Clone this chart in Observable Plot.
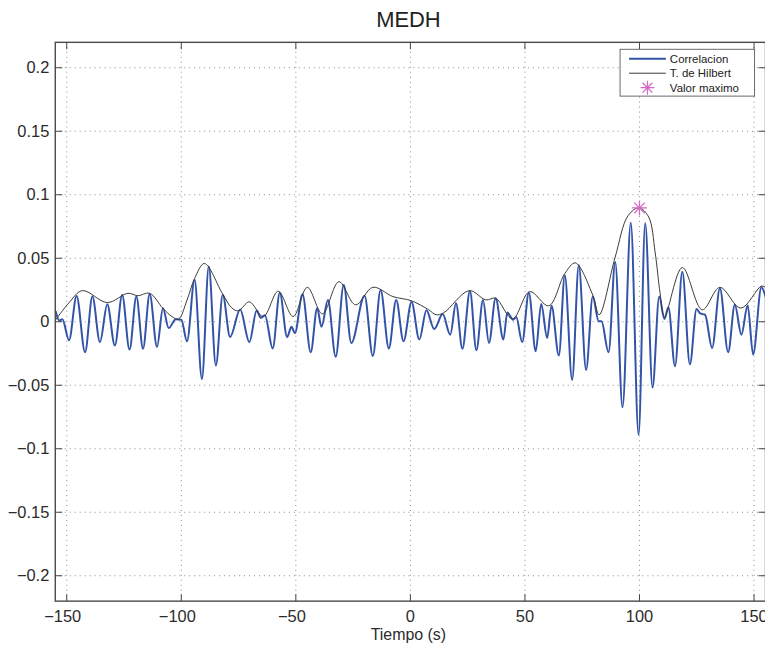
<!DOCTYPE html>
<html><head><meta charset="utf-8">
<script src="https://cdn.jsdelivr.net/npm/d3@7"></script>
<script src="https://cdn.jsdelivr.net/npm/@observablehq/plot@0.6"></script>
<style>
body{margin:0;overflow:hidden;background:#fff}
#chart{width:765px;height:648px;overflow:hidden;position:relative}
</style>
</head><body><div id="chart"></div>
<script>
// Correlation signal (time s, value) at its extrema
const corrT = [-154.8,-153.3,-151.9,-149.0,-145.7,-142.0,-138.8,-135.5,-132.3,-129.0,-125.8,-122.6,-119.6,-116.7,-113.8,-110.6,-108.0,-105.5,-102.4,-100.0,-97.5,-94.2,-91.0,-88.0,-84.9,-81.9,-78.7,-74.3,-70.3,-67.1,-65.3,-63.5,-60.1,-57.0,-53.8,-51.9,-50.4,-47.1,-43.5,-40.7,-38.8,-36.0,-32.6,-29.1,-25.8,-20.0,-16.4,-13.0,-9.4,-6.2,-3.0,0.5,3.9,7.0,10.4,14.1,17.4,19.9,22.7,26.0,28.8,31.7,34.3,37.2,40.6,42.3,44.8,46.2,48.8,51.7,54.7,57.1,59.7,61.6,64.8,67.4,70.6,73.5,76.7,79.6,82.2,83.4,86.5,89.4,92.6,96.2,99.6,102.5,105.7,108.6,110.9,112.6,115.5,118.7,122.0,124.9,126.5,128.6,131.7,135.1,138.7,141.6,144.5,147.2,149.6,153.2,155.0];
const corrV = [0.008,0.001,0.002,-0.0146,0.0203,-0.024,0.0198,-0.016,0.0138,-0.0188,0.021,-0.0219,0.0198,-0.0213,0.0219,-0.0198,0.0107,-0.005,0.002,0.0016,-0.0154,0.033,-0.045,0.0435,-0.0344,0.0213,-0.012,0.0097,-0.016,0.0088,0.003,0.0052,-0.021,0.0229,-0.012,-0.004,-0.0089,0.0216,-0.024,0.0107,-0.004,0.0172,-0.0276,0.029,-0.0167,0.0205,-0.027,0.025,-0.021,0.0172,-0.0154,0.0155,-0.014,0.009,-0.0057,0.006,-0.0102,0.0146,-0.0213,0.0242,-0.0224,0.0172,-0.0167,0.0185,-0.014,0.0073,0.0016,0.0037,-0.016,0.0229,-0.0232,0.014,-0.0128,0.0125,-0.0266,0.0367,-0.0458,0.0445,-0.038,0.0198,0.0003,0.0003,-0.024,0.0471,-0.0674,0.0779,-0.089,0.0776,-0.0518,0.0198,0.0021,0.0115,-0.035,0.0393,-0.0336,0.010,0.0065,0.0055,-0.0206,0.0263,-0.024,0.0133,-0.0102,0.013,-0.0258,0.0271,0.02];

// Hilbert envelope (time s, value)
const hilbT = [-154.8,-149.0,-143.2,-132.3,-123.3,-119.0,-113.8,-108.0,-104.0,-101.2,-97.5,-94.2,-89.9,-82.0,-78.0,-75.1,-70.3,-64.2,-57.7,-51.2,-45.0,-38.4,-31.2,-23.9,-16.4,-7.6,0.3,8.0,11.2,14.5,25.7,32.9,37.2,44.6,52.1,60.4,67.4,72.0,79.6,82.4,89.4,95.0,99.8,104.0,106.8,109.0,110.9,118.7,127.4,135.1,144.2,153.2,155.0];
const hilbV = [0.0016,0.015,0.0245,0.0151,0.0224,0.0205,0.0224,0.0105,0.004,0.0021,0.017,0.034,0.0459,0.022,0.011,0.0086,0.0157,0.0041,0.024,0.0041,0.0271,0.0062,0.0315,0.0133,0.0271,0.0198,0.0166,0.0094,0.0055,0.007,0.0245,0.0172,0.0185,0.0022,0.0237,0.0125,0.038,0.0463,0.021,0.0055,0.051,0.0835,0.0896,0.0825,0.055,0.0224,0.0041,0.0427,0.0094,0.0271,0.0107,0.0281,0.027];

// Maximum value
const peakT = [100];
const peakV = [0.0896];

const xTicks = [-150,-100,-50,0,50,100,150];
const yTicks = [-0.2,-0.15,-0.1,-0.05,0,0.05,0.1,0.15,0.2];
const legendLabels = ["Correlacion","T. de Hilbert","Valor maximo"];
const titleText = "MEDH";
const xLabel = "Tiempo (s)";

const corr = corrT.map((t,i)=>({t, v: corrV[i]}));
const hilb = hilbT.map((t,i)=>({t, v: hilbV[i]}));
const peak = peakT.map((t,i)=>({t, v: peakV[i]}));

const X0 = -155, X1 = 155, Y0 = -0.22, Y1 = 0.22;
const axisColor = "#2b2b2b";
const blue = "#3253a8";
const magenta = "#d466c4";
const font = "'Liberation Sans', Arial, Helvetica, sans-serif";
const tickFont = 16.5;

const rad = s => Math.sqrt(s/Math.PI);
const star8 = {draw(ctx,size){const r=rad(size);for(let k=0;k<4;k++){const a=k*Math.PI/4;ctx.moveTo(r*Math.cos(a),r*Math.sin(a));ctx.lineTo(-r*Math.cos(a),-r*Math.sin(a));}}};
const tickR = {draw(ctx,size){const r=rad(size);ctx.moveTo(0,0);ctx.lineTo(r,0);}};
const tickL = {draw(ctx,size){const r=rad(size);ctx.moveTo(0,0);ctx.lineTo(-r,0);}};
const tickU = {draw(ctx,size){const r=rad(size);ctx.moveTo(0,0);ctx.lineTo(0,-r);}};
const tickD = {draw(ctx,size){const r=rad(size);ctx.moveTo(0,0);ctx.lineTo(0,r);}};

const fmtX = d => (d<0?"\u2212":"") + Math.abs(d);
const fmtY = d => d===0 ? "0" : (d<0?"\u2212":"") + String(+Math.abs(d).toFixed(2));

const chart = Plot.plot({
  width: 768, height: 648,
  marginLeft: 55, marginRight: 0, marginTop: 42, marginBottom: 45,
  style: {fontFamily: font, fontSize: "15px", color: axisColor, background: "#fff"},
  x: {domain: [X0, X1], axis: null},
  y: {domain: [Y0, Y1], axis: null},
  marks: [
    Plot.gridX(xTicks, {stroke: "#8a8a8a", strokeOpacity: 1, strokeWidth: 1, strokeDasharray: "1,4"}),
    Plot.gridY(yTicks, {stroke: "#8a8a8a", strokeOpacity: 1, strokeWidth: 1, strokeDasharray: "1,4"}),
    Plot.text(xTicks.filter(d => d < 0), {x: d => d, y: () => Y0, text: fmtX, lineAnchor: "top", dx: -4, dy: 9, fontSize: tickFont, fill: axisColor}),
    Plot.text(xTicks.filter(d => d >= 0), {x: d => d, y: () => Y0, text: fmtX, lineAnchor: "top", dy: 9, fontSize: tickFont, fill: axisColor}),
    Plot.text(yTicks, {x: () => X0, y: d => d, text: fmtY, textAnchor: "end", dx: -6, fontSize: tickFont, fill: axisColor}),
    Plot.line(corr, {x: "t", y: "v", stroke: blue, strokeWidth: 2, curve: "monotone-x"}),
    Plot.line(hilb, {x: "t", y: "v", stroke: "#3a3a3a", strokeWidth: 1, curve: "catmull-rom"}),
    Plot.dot(peak, {x: "t", y: "v", symbol: star8, r: 7.5, stroke: magenta, strokeWidth: 1.2, fill: "none"}),
    Plot.dot(yTicks, {x: () => X0, y: d => d, symbol: tickR, r: 7, stroke: "#444", strokeWidth: 1, fill: "none"}),
    Plot.dot(yTicks, {x: () => X1, y: d => d, symbol: tickL, r: 7, stroke: "#444", strokeWidth: 1, fill: "none"}),
    Plot.dot(xTicks, {x: d => d, y: () => Y0, symbol: tickU, r: 7, stroke: "#444", strokeWidth: 1, fill: "none"}),
    Plot.dot(xTicks, {x: d => d, y: () => Y1, symbol: tickD, r: 7, stroke: "#444", strokeWidth: 1, fill: "none"}),
    Plot.frame({stroke: "#4a4a4a", strokeWidth: 1.4}),
    Plot.text([titleText], {frameAnchor: "top", lineAnchor: "middle", dx: -2, dy: -22, fontSize: 22, fill: "#222"}),
    Plot.text([xLabel], {frameAnchor: "bottom", lineAnchor: "middle", dx: -2, dy: 34, fontSize: 16, fill: axisColor})
  ]
});
document.getElementById("chart").appendChild(chart);

// Legend box (top-right, inside the axes)
const svg = d3.select(chart);
const lg = svg.append("g").attr("transform", "translate(622.5,49.5)").attr("font-family", font);
lg.append("rect").attr("width", 135).attr("height", 47).attr("fill", "#fff").attr("stroke", "#6a6a6a").attr("stroke-width", 1);
const rowY = [9.5, 24, 38.5];
const samples = [
  {stroke: blue, width: 2},
  {stroke: "#3a3a3a", width: 1},
  {star: true}
];
legendLabels.forEach((lab, i) => {
  const s = samples[i];
  if (s.star) {
    const p = d3.path(); const r = 7;
    for (let k = 0; k < 4; k++) { const a = k*Math.PI/4; p.moveTo(27.5 + r*Math.cos(a), rowY[i] + r*Math.sin(a)); p.lineTo(27.5 - r*Math.cos(a), rowY[i] - r*Math.sin(a)); }
    lg.append("path").attr("d", p.toString()).attr("stroke", magenta).attr("stroke-width", 1.2).attr("fill", "none");
  } else {
    lg.append("line").attr("x1", 9).attr("x2", 46).attr("y1", rowY[i]).attr("y2", rowY[i]).attr("stroke", s.stroke).attr("stroke-width", s.width);
  }
  lg.append("text").attr("x", 50).attr("y", rowY[i]).attr("dy", "0.35em").attr("text-anchor", "start").attr("font-size", 11.5).attr("fill", "#222").text(lab);
});
</script>
</body></html>
